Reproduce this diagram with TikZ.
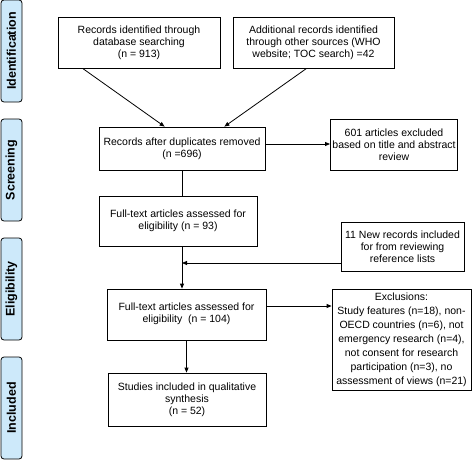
\documentclass[tikz,border=0pt]{standalone}
\usepackage{fontspec}
\setmainfont{Liberation Sans}
\usetikzlibrary{arrows.meta,calc}
\definecolor{sidefill}{HTML}{CDE9FA}
\tikzset{
  box/.style={draw=black, line width=0.8pt, fill=white, align=center, inner sep=2pt,
    font=\fontsize{10.5}{12}\selectfont},
  sidebox/.style={draw=black, line width=0.8pt, fill=sidefill, rounded corners=3pt,
    minimum width=21pt, minimum height=102pt, inner sep=0pt},
  sidetext/.style={rotate=90, font=\fontsize{12.5}{14}\selectfont\bfseries},
  conn/.style={line width=0.8pt, draw=black},
  arr/.style={conn, -{Triangle[length=5pt,width=4pt]}},
}
\begin{document}
\begin{tikzpicture}[x=1pt,y=-1pt]
\useasboundingbox (0,0) rectangle (473,460);
% side labels
\node[sidebox] (s1) at (11.5,51) {};
\node[sidetext] (t1) at (s1.center) {Identification};
\node[sidebox] (s2) at (11.5,170) {};
\node[sidetext] (t2) at (s2.center) {Screening};
\node[sidebox] (s3) at (11.5,289) {};
\node[sidetext] (t3) at (s3.center) {Eligibility};
\node[sidebox] (s4) at (11.5,408) {};
\node[sidetext] (t4) at (s4.center) {Included};
% boxes
\node[box, minimum width=162pt, minimum height=51pt] (A) at (139,42.5)
  {Records identified through\\database searching\\(n = 913)};
\node[box, minimum width=161pt, minimum height=51pt] (B) at (313.5,42.5)
  {Additional records identified\\through other sources (WHO\\website; TOC search) =42};
\node[box, minimum width=166pt, minimum height=43pt] (C) at (182,148.5)
  {Records after duplicates removed\\(n =696)};
\node[box, minimum width=126pt, minimum height=51pt] (D) at (394,144.5)
  {601 articles excluded\\based on title and abstract\\review};
\node[box, minimum width=158pt, minimum height=50pt] (E) at (178,221)
  {\raisebox{5pt}{\begin{tabular}{@{}c@{}}Full-text articles assessed for\\eligibility (n = 93)\end{tabular}}};
\node[box, minimum width=123pt, minimum height=49pt] (F) at (402.5,246.5)
  {11 New records included\\for from reviewing\\reference lists};
\node[box, minimum width=159pt, minimum height=51pt] (G) at (186.5,314.5)
  {\raisebox{4pt}{\begin{tabular}{@{}c@{}}Full-text articles assessed for\\eligibility~ (n = 104)\end{tabular}}};
\node[box, minimum width=139pt, minimum height=101pt, font=\fontsize{10.5}{14}\selectfont] (H) at (401.5,339.5)
  {Exclusions:\\Study features (n=18), non-\\OECD countries (n=6), not\\emergency research (n=4),\\not consent for research\\participation (n=3), no\\assessment of views (n=21)};
\node[box, minimum width=158pt, minimum height=53pt] (I) at (187,399.5)
  {Studies included in qualitative\\synthesis\\(n = 52)};
% connectors
\draw[arr] ([xshift=25pt]A.south west) -- ([xshift=66pt]C.north west);
\draw[arr] ([xshift=74pt]B.south west) -- ([xshift=-41pt]C.north east);
\draw[arr] ([yshift=4.5pt]C.east) -- ([yshift=4.5pt]C.east -| D.west);
\draw[conn] (C.south) -- (C.south |- E.north);
\draw[arr] (C.south |- E.south) -- (C.south |- G.north);
\draw[arr] ([yshift=-16.5pt]F.west) -- ([yshift=-16.5pt]F.west -| C.south);
\draw[arr] ([yshift=8.5pt]G.east) -- ([yshift=8.5pt]G.east -| H.west);
\draw[arr] (G.south) -- (G.south |- I.north);
\end{tikzpicture}
\end{document}
